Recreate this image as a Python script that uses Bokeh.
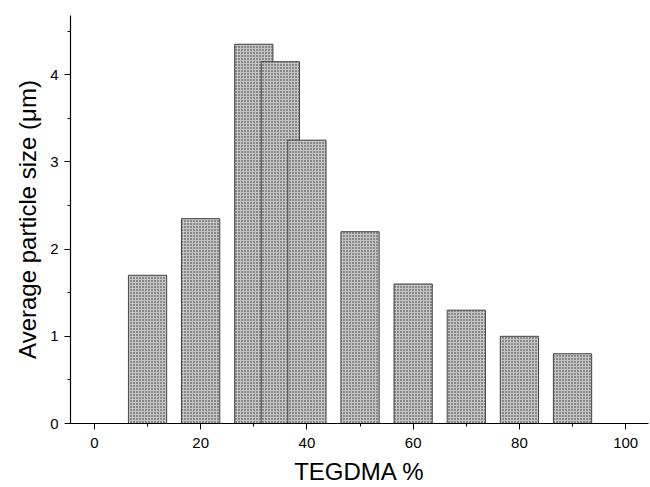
from bokeh.plotting import figure
from bokeh.models import Range1d, FixedTicker
from bokeh.embed import file_html
from bokeh.resources import INLINE

tegdma = [10, 20, 30, 35, 40, 50, 60, 70, 80, 90]
size_um = [1.70, 2.35, 4.35, 4.15, 3.25, 2.20, 1.60, 1.30, 1.00, 0.80]
bar_width = 7.2

x_ticks = [0, 20, 40, 60, 80, 100]
x_minor = [10, 30, 50, 70, 90]
y_ticks = [0, 1, 2, 3, 4]
y_minor = [0.5, 1.5, 2.5, 3.5, 4.5]

p = figure(width=650, height=487, output_backend="svg", toolbar_location=None,
           x_range=Range1d(-4.5, 104.3), y_range=Range1d(0, 4.68),
           min_border_left=70, min_border_right=2, min_border_top=15, min_border_bottom=64)
p.outline_line_color = None
p.grid.visible = False
p.background_fill_color = "white"

for x, h in zip(tegdma, size_um):
    p.vbar(x=[x], top=[h], bottom=0, width=bar_width,
           fill_color="#c6c6c6", line_color="#444444", line_width=1,
           hatch_pattern="dot", hatch_scale=3, hatch_color="#2a2a2a", hatch_weight=1.4)

for ax, ticks, minor in ((p.xaxis[0], x_ticks, x_minor), (p.yaxis[0], y_ticks, y_minor)):
    ax.ticker = FixedTicker(ticks=ticks, minor_ticks=minor)
    ax.major_tick_in = 0
    ax.major_tick_out = 6
    ax.minor_tick_in = 0
    ax.minor_tick_out = 3
    ax.axis_line_color = "black"
    ax.axis_line_width = 1.2
    ax.major_tick_line_color = "black"
    ax.minor_tick_line_color = "black"
    ax.major_label_text_font = "Liberation Sans"
    ax.major_label_text_font_size = "15px"
    ax.major_label_text_color = "black"
    ax.axis_label_text_font = "Liberation Sans"
    ax.axis_label_text_font_size = "24px"
    ax.axis_label_text_font_style = "normal"
    ax.axis_label_text_color = "black"

p.xaxis.axis_label = "TEGDMA %"
p.yaxis.axis_label = "Average particle size (μm)"
p.xaxis.major_label_standoff = 8
p.xaxis.axis_label_standoff = 7
p.yaxis.major_label_standoff = 6
p.yaxis.axis_label_standoff = 6

open("out.html", "w").write(file_html(p, INLINE))
